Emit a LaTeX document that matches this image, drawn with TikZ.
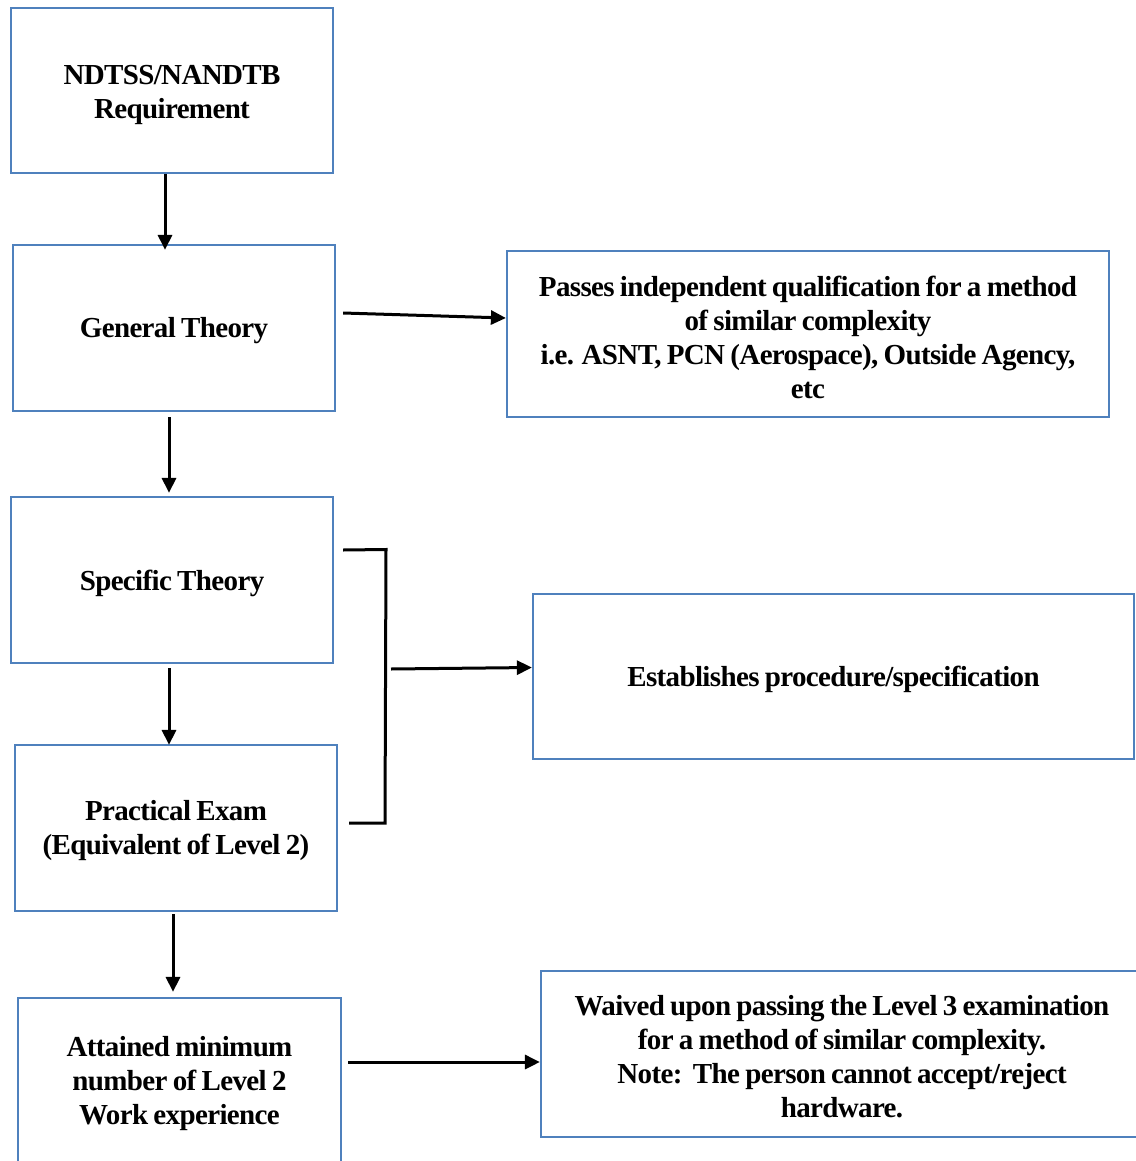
\documentclass[tikz,border=0pt]{standalone}
\usepackage{fontspec}
\setmainfont{Liberation Serif}[LetterSpace=-2.2,WordSpace=0.8]
\usetikzlibrary{arrows.meta}
\definecolor{boxblue}{HTML}{4F81BD}
\begin{document}
\begin{tikzpicture}[x=1pt,y=-1pt,
  box/.style={draw=boxblue,line width=2.2pt,rectangle,inner sep=0pt},
  txt/.style={inner sep=0pt,align=center,font=\fontsize{29}{34}\selectfont\bfseries},
  conn/.style={line width=3pt,-{Triangle[length=15pt,width=14pt]}},
  plainline/.style={line width=3pt}]
\useasboundingbox (0,0) rectangle (1135,1161);
\fill[white] (0,0) rectangle (1135,1161);
% left column
\node[box,minimum width=322,minimum height=165] (b1) at (172,90.5) {};
\node[box,minimum width=322,minimum height=166] (b2) at (174,328) {};
\node[box,minimum width=322,minimum height=166] (b3) at (172,580) {};
\node[box,minimum width=322,minimum height=166] (b4) at (176,828) {};
\node[box,minimum width=323,minimum height=168] (b5) at (179.5,1082) {};
% right column
\node[box,minimum width=602,minimum height=166] (r1) at (808,334) {};
\node[box,minimum width=601,minimum height=165] (r2) at (833.5,676.5) {};
\node[box,minimum width=602,minimum height=166] (r3) at (842,1054) {};
% texts
\node[txt] (t1) at ([yshift=-4pt]b1.center) {NDTSS/NANDTB\\Requirement};
\node[txt] (t2) at ([yshift=-3pt]b2.center) {General Theory};
\node[txt] (t3) at ([yshift=-3pt]b3.center) {Specific Theory};
\node[txt] (t4) at ([yshift=-3pt]b4.center) {Practical Exam\\(Equivalent of Level 2)};
\node[txt] (t5) at ([yshift=-2pt]b5.center) {Attained minimum\\number of Level 2\\Work experience};
\node[txt] (s1) at ([yshift=-3pt]r1.center) {Passes independent qualification for a method\\of similar complexity\\i.e. ASNT, PCN (Aerospace), Outside Agency,\\etc};
\node[txt] (s2) at ([yshift=-3pt]r2.center) {Establishes procedure/specification};
\node[txt] (s3) at ([yshift=-3pt]r3.center) {Waived upon passing the Level 3 examination\\for a method of similar complexity.\\Note:\ \ The person cannot accept/reject\\hardware.};
% vertical arrows
\draw[conn] ([xshift=-7pt]b1.south) -- ([xshift=-9pt,yshift=-6pt]b2.north);
\draw[conn] ([xshift=-5pt,yshift=-5pt]b2.south) -- ([xshift=-3pt,yshift=3pt]b3.north);
\draw[conn] ([xshift=-3pt,yshift=-4pt]b3.south) -- ([xshift=-7pt,yshift=-1pt]b4.north);
\draw[conn] ([xshift=-3pt,yshift=-2pt]b4.south) -- ([xshift=-6.5pt,yshift=5pt]b5.north);
% horizontal arrows
\draw[conn] ([xshift=7pt,yshift=15pt]b2.east) -- ([yshift=16pt]r1.west);
\draw[conn] ([xshift=6pt,yshift=20pt]b5.east) -- ([yshift=-8pt]r3.west);
% bracket
\coordinate (bt) at (386,549.5);
\coordinate (bb) at (385,823);
\coordinate (bm) at (391,669);
\draw[plainline] ([xshift=9pt,yshift=30pt]b3.east) -- (bt) -- (bb) -- ([xshift=11pt,yshift=5pt]b4.east);
\draw[conn] (bm) -- ([yshift=9pt]r2.west);
\end{tikzpicture}
\end{document}
